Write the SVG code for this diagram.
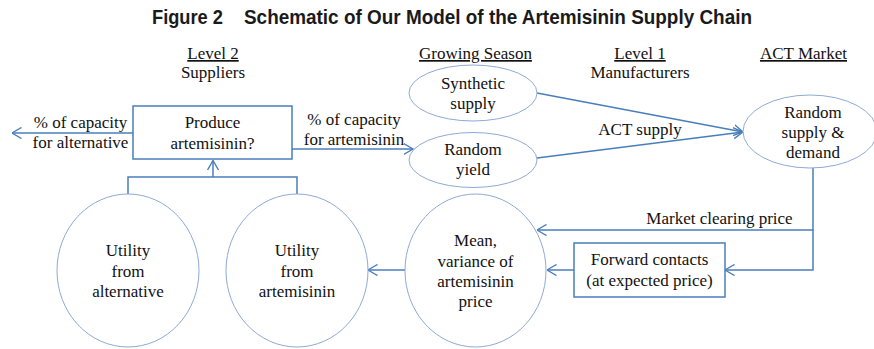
<svg xmlns="http://www.w3.org/2000/svg" width="874" height="349" viewBox="0 0 874 349">
  <style>
    .t { font-family: 'Liberation Serif', 'Times New Roman', serif; font-size: 17px; fill: #111; text-anchor: middle; }
    .title { font-family: 'Liberation Sans', Arial, sans-serif; font-weight: bold; font-size: 21px; fill: #1a1a1a; }
    .u { text-decoration: underline; }
    .node { fill: #fff; stroke: #8eaad6; stroke-width: 1; }
    .box { fill: #fff; stroke: #4a7ebb; stroke-width: 1.5; }
    .edge { fill: none; stroke: #4a7ebb; stroke-width: 1.5; }
  </style>
  <defs>
    <marker id="arrow" viewBox="0 0 10 12" refX="9.5" refY="6" markerWidth="10" markerHeight="12" markerUnits="userSpaceOnUse" orient="auto">
      <path d="M0,0.5 L9.5,6 L0,11.5" fill="none" stroke="#4a7ebb" stroke-width="1.4"/>
    </marker>
  </defs>

  <rect width="874" height="349" fill="#fff"/>

  <text class="title" y="24">
    <tspan x="152" textLength="71" lengthAdjust="spacingAndGlyphs">Figure 2</tspan>
    <tspan x="244" textLength="508" lengthAdjust="spacingAndGlyphs">Schematic of Our Model of the Artemisinin Supply Chain</tspan>
  </text>

  <!-- column headings -->
  <g id="headings">
    <text class="t u" x="213" y="59">Level 2</text>
    <text class="t" x="213" y="78">Suppliers</text>
    <text class="t u" x="475.5" y="59">Growing Season</text>
    <text class="t u" x="640" y="59">Level 1</text>
    <text class="t" x="640" y="78">Manufacturers</text>
    <text class="t u" x="803.5" y="59">ACT Market</text>
  </g>

  <!-- connectors -->
  <g id="connectors">
    <path class="edge" d="M133,133 H12" marker-end="url(#arrow)"/>
    <path class="edge" d="M292,149 H413" marker-end="url(#arrow)"/>
    <path class="edge" d="M128,194 V177 H297 V194"/>
    <path class="edge" d="M213,177 V160.5" marker-end="url(#arrow)"/>
    <path class="edge" d="M537,93 L743,132" marker-end="url(#arrow)"/>
    <path class="edge" d="M537,158 L743,132" marker-end="url(#arrow)"/>
    <path class="edge" d="M813,168 V230 H537" marker-end="url(#arrow)"/>
    <path class="edge" d="M813,230 V270 H725" marker-end="url(#arrow)"/>
    <path class="edge" d="M574,270 H547" marker-end="url(#arrow)"/>
    <path class="edge" d="M405,270 H368" marker-end="url(#arrow)"/>
  </g>

  <!-- connector labels -->
  <g id="labels">
    <text class="t" x="80.5" y="128">% of capacity</text>
    <text class="t" x="80.5" y="148">for alternative</text>
    <text class="t" x="354" y="125">% of capacity</text>
    <text class="t" x="354" y="145">for artemisinin</text>
    <text class="t" x="640" y="135">ACT supply</text>
    <text class="t" x="719.5" y="224">Market clearing price</text>
  </g>

  <g id="produce">
    <rect class="box" x="133" y="106" width="159" height="53"/>
    <text class="t" x="212.5" y="128">Produce</text>
    <text class="t" x="212.5" y="149">artemisinin?</text>
  </g>

  <g id="synthetic">
    <ellipse class="node" cx="473" cy="93" rx="64" ry="28"/>
    <text class="t" x="473" y="89">Synthetic</text>
    <text class="t" x="473" y="109">supply</text>
  </g>

  <g id="random-yield">
    <ellipse class="node" cx="473" cy="160" rx="64" ry="27.5"/>
    <text class="t" x="473" y="155">Random</text>
    <text class="t" x="473" y="175">yield</text>
  </g>

  <g id="market">
    <ellipse class="node" cx="810" cy="131.5" rx="67" ry="36.5"/>
    <text class="t" x="813" y="118">Random</text>
    <text class="t" x="813" y="138">supply &amp;</text>
    <text class="t" x="813" y="158">demand</text>
  </g>

  <g id="forward">
    <rect class="box" x="574" y="243" width="151" height="54"/>
    <text class="t" x="649.5" y="265">Forward contacts</text>
    <text class="t" x="649.5" y="286">(at expected price)</text>
  </g>

  <g id="mean-variance">
    <ellipse class="node" cx="475.5" cy="270.5" rx="70.5" ry="76.5"/>
    <text class="t" x="475.5" y="246">Mean,</text>
    <text class="t" x="475.5" y="267">variance of</text>
    <text class="t" x="475.5" y="287">artemisinin</text>
    <text class="t" x="475.5" y="307">price</text>
  </g>

  <g id="utility-artemisinin">
    <ellipse class="node" cx="297" cy="270.5" rx="71" ry="76.5"/>
    <text class="t" x="297" y="256">Utility</text>
    <text class="t" x="297" y="277">from</text>
    <text class="t" x="297" y="297">artemisinin</text>
  </g>

  <g id="utility-alternative">
    <ellipse class="node" cx="128" cy="270.5" rx="71" ry="76.5"/>
    <text class="t" x="128" y="256">Utility</text>
    <text class="t" x="128" y="277">from</text>
    <text class="t" x="128" y="297">alternative</text>
  </g>
</svg>
